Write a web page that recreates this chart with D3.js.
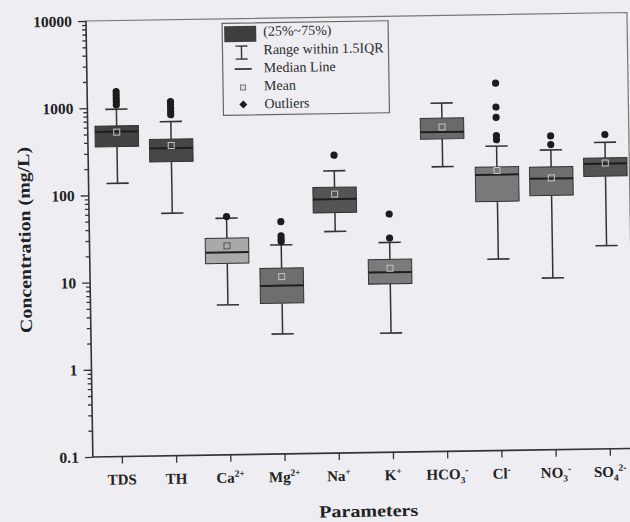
<!DOCTYPE html>
<html><head><meta charset="utf-8">
<script src="https://cdn.jsdelivr.net/npm/d3@7"></script>
<style>html,body{margin:0;padding:0;background:#eeeef2;} svg{display:block;}</style>
</head><body><svg id="c" width="630" height="522"></svg>
<script>
(function () {
// ---- data ----
const categories = ["TDS","TH","Ca2+","Mg2+","Na+","K+","HCO3-","Cl-","NO3-","SO42-"];
const labelBase = ["TDS","TH","Ca","Mg","Na","K","HCO","Cl","NO","SO"];
const labelSub  = ["","","","","","","3","","3","4"];
const labelSup  = ["","","2+","2+","+","+","-","-","-","2-"];
const whiskerLow  = [136, 60.4, 5.24, 2.38, 34.8, 2.33, 184, 15.7, 9.33, 21.4];
const q1          = [358, 236, 15.7, 5.36, 57.4, 8.55, 383, 72, 82.6, 134];
const median      = [533, 336, 21.0, 8.53, 81.8, 11.6, 460, 146, 129, 187];
const q3          = [618, 427, 30.5, 13.5, 112, 16.3, 665, 179, 175, 217];
const whiskerHigh = [962, 678, 51.7, 25.0, 173, 25.5, 988, 310, 274, 328];
const mean        = [525, 360, 24.9, 10.8, 93.3, 12.9, 525, 163, 131, 190];
const outliers = [
  [1535, 1403, 1285, 1178, 1077],
  [1151, 1060, 966, 881, 813],
  [54],
  [46.2, 31.7, 29.1, 27.3],
  [261],
  [54, 28.6],
  [],
  [1634, 871, 662, 408, 367],
  [397, 316],
  [403]
];
const yTicks = [0.1, 1, 10, 100, 1000, 10000];
const yTickLabels = ["0.1", "1", "10", "100", "1000", "10000"];
const legendLabels = ["(25%~75%)", "Range within 1.5IQR", "Median Line", "Mean", "Outliers"];

// ---- styles ----
const boxColors = ["#424242","#464646","#a9a9a9","#6e6e6e","#545454","#7b7b7b","#6a6a6a","#797979","#6f6f6f","#535353"];
const bg = "#eeeef2";
const ink = "#222";
const serif = "'Liberation Serif','Times New Roman',serif";

const W = 630, H = 522;
const pl = 86, pr = 627, pt = 21, pb = 457;

const svg = d3.select("#c");
svg.append("rect").attr("width", W).attr("height", H).attr("fill", bg);
const g = svg.append("g").attr("transform", `rotate(-0.9,${pl},${pt})`);

const y = d3.scaleLog().domain([0.1, 10000]).range([pb, pt]);
const x = d3.scalePoint().domain(categories).range([115, 603]);
const step = x.step();
const boxW = step * 0.8, capW = step * 0.41;

// frame top/right
g.append("path").attr("d", `M${pl},${pt}H${pr}V${pb}`)
  .attr("fill", "none").attr("stroke", "#777").attr("stroke-width", 1.2);

// y axis
const minor = [];
yTicks.slice(0, -1).forEach(d => { for (let k = 2; k <= 9; k++) minor.push(d * k); });
const yMinor = g.append("g").attr("transform", `translate(${pl},0)`)
  .call(d3.axisLeft(y).tickValues(minor).tickSize(4).tickFormat(""));
yMinor.select(".domain").remove();
const yAx = g.append("g").attr("transform", `translate(${pl},0)`)
  .call(d3.axisLeft(y).tickValues(yTicks).tickSize(8).tickPadding(6)
    .tickFormat((d, i) => yTickLabels[i]));
yAx.select(".domain").remove();
g.selectAll(".tick line").attr("stroke", "#333").attr("stroke-width", 1.3);
yAx.selectAll("text").attr("font-family", serif).attr("font-weight", "bold")
  .attr("font-size", 15.5).attr("fill", ink);

// x axis
const xAx = g.append("g").attr("transform", `translate(0,${pb})`)
  .call(d3.axisBottom(x).tickSize(7).tickSizeOuter(0).tickFormat(""));
xAx.select(".domain").remove();
xAx.selectAll(".tick line").attr("stroke", "#333").attr("stroke-width", 1.3);

// axis lines
g.append("line").attr("x1", pl).attr("x2", pl).attr("y1", pt).attr("y2", pb)
  .attr("stroke", "#333").attr("stroke-width", 1.6);
g.append("line").attr("x1", pl).attr("x2", pr).attr("y1", pb).attr("y2", pb)
  .attr("stroke", "#333").attr("stroke-width", 1.6);

// x tick labels
categories.forEach((c, i) => {
  const t = g.append("text").attr("x", x(c)).attr("y", pb + 28)
    .attr("text-anchor", "middle").attr("font-family", serif).attr("font-weight", "bold")
    .attr("font-size", 15).attr("fill", ink);
  t.append("tspan").text(labelBase[i]);
  let shift = 0;
  if (labelSub[i]) { t.append("tspan").attr("font-size", 9.5).attr("dy", 4).text(labelSub[i]); shift = 4; }
  if (labelSup[i]) { t.append("tspan").attr("font-size", 9.5).attr("dy", -6 - shift).text(labelSup[i]); }
});

// boxes
categories.forEach((c, i) => {
  const cx = x(c);
  const bx = g.append("g");
  bx.append("line").attr("x1", cx).attr("x2", cx).attr("y1", y(whiskerLow[i])).attr("y2", y(q1[i]))
    .attr("stroke", "#333").attr("stroke-width", 1.5);
  bx.append("line").attr("x1", cx).attr("x2", cx).attr("y1", y(q3[i])).attr("y2", y(whiskerHigh[i]))
    .attr("stroke", "#333").attr("stroke-width", 1.5);
  [whiskerLow[i], whiskerHigh[i]].forEach(v => {
    bx.append("line").attr("x1", cx - capW / 2).attr("x2", cx + capW / 2).attr("y1", y(v)).attr("y2", y(v))
      .attr("stroke", "#333").attr("stroke-width", 1.6);
  });
  bx.append("rect").attr("x", cx - boxW / 2).attr("width", boxW)
    .attr("y", y(q3[i])).attr("height", y(q1[i]) - y(q3[i]))
    .attr("fill", boxColors[i]).attr("stroke", "#333").attr("stroke-width", 1);
  bx.append("line").attr("x1", cx - boxW / 2).attr("x2", cx + boxW / 2)
    .attr("y1", y(median[i])).attr("y2", y(median[i]))
    .attr("stroke", "#1e1e1e").attr("stroke-width", 2);
  const light = d3.hsl(boxColors[i]).l > 0.55;
  bx.append("rect").attr("x", cx - 3).attr("y", y(mean[i]) - 3).attr("width", 6).attr("height", 6)
    .attr("fill", "none").attr("stroke", light ? "#555" : "#c4c4c4").attr("stroke-width", 1);
  outliers[i].forEach(v => {
    bx.append("circle").attr("cx", cx).attr("cy", y(v)).attr("r", 3.6).attr("fill", "#1c1c1c");
  });
});

// legend
const lg = g.append("g").attr("transform", "translate(222,25.5)");
lg.append("rect").attr("width", 166).attr("height", 92).attr("fill", bg)
  .attr("stroke", "#666").attr("stroke-width", 1.2);
lg.append("rect").attr("x", 2).attr("y", 3).attr("width", 32).attr("height", 16).attr("fill", "#3e3e3e");
lg.append("line").attr("x1", 19).attr("x2", 19).attr("y1", 23).attr("y2", 36).attr("stroke", "#333").attr("stroke-width", 1.4);
[23, 36].forEach(v => lg.append("line").attr("x1", 13).attr("x2", 25).attr("y1", v).attr("y2", v).attr("stroke", "#333").attr("stroke-width", 1.4));
lg.append("line").attr("x1", 12).attr("x2", 29).attr("y1", 46).attr("y2", 46).attr("stroke", "#333").attr("stroke-width", 1.6);
lg.append("rect").attr("x", 17.5).attr("y", 62).attr("width", 5).attr("height", 5).attr("fill", "#ddd").attr("stroke", "#777").attr("stroke-width", 1);
lg.append("path").attr("d", "M20,77.5L24,81.5L20,85.5L16,81.5Z").attr("fill", "#1c1c1c");
const baselines = [13, 31.5, 49.5, 67.5, 85.5];
legendLabels.forEach((t, i) => {
  lg.append("text").attr("x", 41).attr("y", baselines[i]).attr("font-family", serif)
    .attr("font-size", 14).attr("fill", "#2a2a2a").text(t);
});

// axis titles
g.append("text").attr("transform", "translate(27,239) rotate(-90)").attr("text-anchor", "middle")
  .attr("font-family", serif).attr("font-weight", "bold").attr("font-size", 17).attr("fill", ink)
  .attr("textLength", 186).attr("lengthAdjust", "spacingAndGlyphs").text("Concentration (mg/L)");
g.append("text").attr("x", 361).attr("y", 521).attr("text-anchor", "middle")
  .attr("font-family", serif).attr("font-weight", "bold").attr("font-size", 17).attr("fill", ink)
  .attr("textLength", 99).attr("lengthAdjust", "spacingAndGlyphs").text("Parameters");
})();
</script></body></html>
